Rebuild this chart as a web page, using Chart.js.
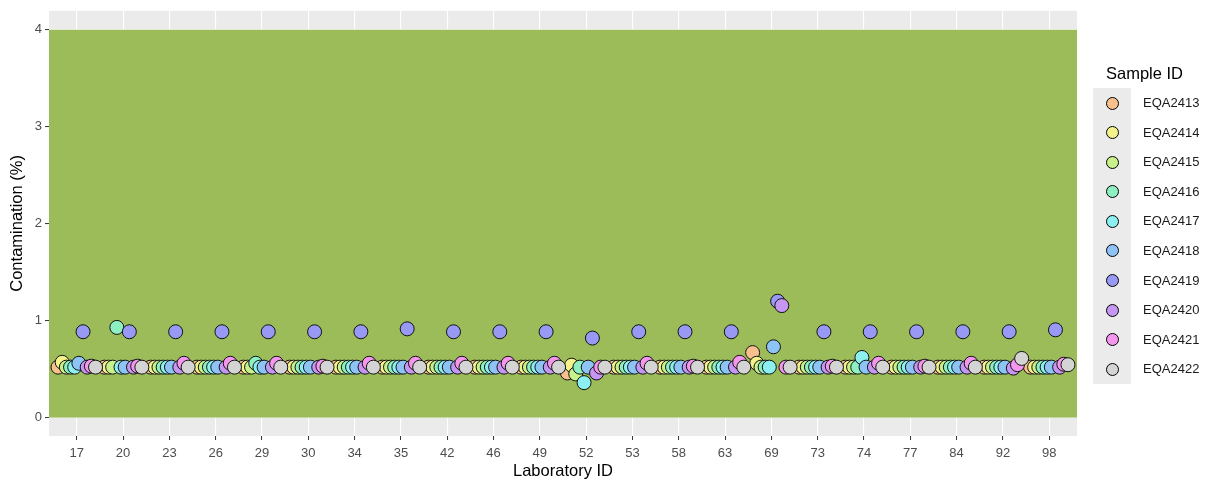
<!DOCTYPE html>
<html>
<head>
<meta charset="utf-8">
<script src="https://cdn.jsdelivr.net/npm/chart.js@4"></script>
<style>
  body { margin: 0; background: #fff; font-family: "Liberation Sans", Arial, sans-serif; }
  #wrap { position: relative; width: 1211px; height: 479px; }
  #legend { position: absolute; left: 1093px; top: 60px; }
  #legend .title { position: absolute; left: 13px; top: 4px; font-size: 16.5px; color: #000; white-space: nowrap; }
  #legend .keys { position: absolute; left: 0; top: 28px; width: 38px; background: #ebebeb; }
  #legend .row { position: relative; height: 29.6px; }
  #legend .dot { position: absolute; left: 12.5px; top: 8.5px; width: 11px; height: 11px; border: 1px solid #000; border-radius: 50%; }
  #legend .lab { position: absolute; left: 50px; top: 7px; font-size: 13px; color: #1a1a1a; white-space: nowrap; }
</style>
</head>
<body>
<div id="wrap">
  <canvas id="chart" width="1211" height="479"></canvas>
  <div id="legend"></div>
</div>
<script>
// laboratories on the x axis
const labIds = ['17', '20', '23', '26', '29', '30', '34', '35', '42', '46', '49',
                '52', '53', '58', '63', '69', '73', '74', '77', '84', '92', '98'];
const yTicks = [0, 1, 2, 3, 4];

const sampleIds = ['EQA2413', 'EQA2414', 'EQA2415', 'EQA2416', 'EQA2417',
                   'EQA2418', 'EQA2419', 'EQA2420', 'EQA2421', 'EQA2422'];
const sampleColors = ['#F8C08D', '#F3F28B', '#C8F08B', '#8DF0C3', '#8DF0F0',
                      '#8DC4F5', '#9898F5', '#C596F2', '#F596EE', '#D4D4D4'];

// contamination (%) per sample, one value per lab (same order as labIds)
const eqa2413 = [0.52, 0.52, 0.52, 0.52, 0.52, 0.52, 0.52, 0.52, 0.52, 0.52, 0.52,
                 0.46, 0.52, 0.52, 0.52, 0.67, 0.52, 0.52, 0.52, 0.52, 0.52, 0.52];
const eqa2414 = [0.57, 0.52, 0.52, 0.52, 0.52, 0.52, 0.52, 0.52, 0.52, 0.52, 0.52,
                 0.54, 0.52, 0.52, 0.52, 0.56, 0.52, 0.52, 0.52, 0.52, 0.52, 0.52];
const eqa2415 = [0.52, 0.52, 0.52, 0.52, 0.52, 0.52, 0.52, 0.52, 0.52, 0.52, 0.52,
                 0.45, 0.52, 0.52, 0.52, 0.52, 0.52, 0.52, 0.52, 0.52, 0.52, 0.52];
const eqa2416 = [0.52, 0.93, 0.52, 0.52, 0.56, 0.52, 0.52, 0.52, 0.52, 0.52, 0.52,
                 0.52, 0.52, 0.52, 0.52, 0.52, 0.52, 0.52, 0.52, 0.52, 0.52, 0.52];
const eqa2417 = [0.52, 0.52, 0.52, 0.52, 0.52, 0.52, 0.52, 0.52, 0.52, 0.52, 0.52,
                 0.36, 0.52, 0.52, 0.52, 0.52, 0.52, 0.62, 0.52, 0.52, 0.52, 0.52];
const eqa2418 = [0.56, 0.52, 0.52, 0.52, 0.52, 0.52, 0.52, 0.52, 0.52, 0.52, 0.52,
                 0.52, 0.52, 0.52, 0.52, 0.73, 0.52, 0.52, 0.52, 0.52, 0.52, 0.52];
const eqa2419 = [0.885, 0.885, 0.885, 0.885, 0.885, 0.885, 0.885, 0.915, 0.885, 0.885, 0.885,
                 0.82, 0.885, 0.885, 0.885, 1.20, 0.885, 0.885, 0.885, 0.885, 0.885, 0.905];
const eqa2420 = [0.52, 0.52, 0.52, 0.52, 0.52, 0.52, 0.52, 0.52, 0.52, 0.52, 0.52,
                 0.46, 0.52, 0.52, 0.52, 1.155, 0.52, 0.52, 0.52, 0.52, 0.51, 0.52];
const eqa2421 = [0.53, 0.53, 0.56, 0.56, 0.56, 0.53, 0.56, 0.56, 0.56, 0.56, 0.56,
                 0.52, 0.56, 0.53, 0.57, 0.52, 0.53, 0.56, 0.53, 0.56, 0.545, 0.55];
const eqa2422 = [0.52, 0.52, 0.52, 0.52, 0.52, 0.52, 0.52, 0.52, 0.52, 0.52, 0.52,
                 0.52, 0.52, 0.52, 0.52, 0.52, 0.52, 0.52, 0.52, 0.52, 0.61, 0.545];

const sampleValues = [eqa2413, eqa2414, eqa2415, eqa2416, eqa2417,
                      eqa2418, eqa2419, eqa2420, eqa2421, eqa2422];

// dodge the samples side by side within each lab (width 0.9, like ggplot)
const dodgeStep = 0.9 / sampleIds.length;

const datasets = sampleIds.map((id, s) => ({
    label: id,
    data: sampleValues[s].map((v, i) => ({ x: i + (s - 4.5) * dodgeStep, y: v })),
    backgroundColor: sampleColors[s],
    borderColor: '#111',
    borderWidth: 1,
    pointRadius: 7,
    pointHoverRadius: 7,
    order: sampleIds.length - s   // later samples drawn on top
}));

// grey panel + green band from 0 to 4
const panelPlugin = {
    id: 'panel',
    beforeDraw(chart) {
        const { ctx, chartArea: a } = chart;
        ctx.save();
        ctx.fillStyle = '#EBEBEB';
        ctx.fillRect(a.left, a.top, a.right - a.left, a.bottom - a.top);
        ctx.restore();
    },
    beforeDatasetsDraw(chart) {
        const { ctx, chartArea: a, scales } = chart;
        const top = scales.y.getPixelForValue(4);
        const bottom = scales.y.getPixelForValue(0);
        ctx.save();
        ctx.fillStyle = '#9CBB59';
        ctx.fillRect(a.left, top, a.right - a.left, bottom - top);
        ctx.restore();
    }
};

const tickFont = { family: '"Liberation Sans", Arial, sans-serif', size: 13 };
const titleFont = { family: '"Liberation Sans", Arial, sans-serif', size: 16.5 };

new Chart(document.getElementById('chart'), {
    type: 'scatter',
    data: { datasets: datasets },
    options: {
        responsive: false,
        animation: false,
        events: [],
        layout: { padding: { top: 10, right: 134, left: 0, bottom: 0 } },
        plugins: { legend: { display: false }, tooltip: { enabled: false } },
        scales: {
            x: {
                type: 'linear',
                min: -0.6,
                max: labIds.length - 0.4,
                afterBuildTicks: scale => { scale.ticks = labIds.map((_, i) => ({ value: i })); },
                afterFit: scale => { scale.height = 43; },
                ticks: {
                    autoSkip: false,
                    maxRotation: 0,
                    padding: 6,
                    color: '#4D4D4D',
                    font: tickFont,
                    callback: v => labIds[v]
                },
                grid: { color: '#FFFFFF', lineWidth: 1.1, tickColor: '#333333', tickLength: 4, tickWidth: 1 },
                border: { display: false },
                title: { display: true, text: 'Laboratory ID', color: '#000', font: titleFont, padding: { top: 0, bottom: -2 } }
            },
            y: {
                min: -0.19,
                max: 4.195,
                afterBuildTicks: scale => { scale.ticks = yTicks.map(v => ({ value: v })); },
                afterFit: scale => { scale.width = 49; },
                ticks: { padding: 3, color: '#4D4D4D', font: tickFont },
                grid: { color: '#FFFFFF', lineWidth: 1.1, tickColor: '#333333', tickLength: 4, tickWidth: 1 },
                border: { display: false },
                title: { display: true, text: 'Contamination (%)', color: '#000', font: titleFont, padding: { top: 8, bottom: 0 } }
            }
        }
    },
    plugins: [panelPlugin]
});

// ggplot-like legend on the right
const legend = document.getElementById('legend');
let html = '<div class="title">Sample ID</div><div class="keys">';
sampleIds.forEach((id, s) => {
    html += '<div class="row"><span class="dot" style="background:' + sampleColors[s] +
            '"></span><span class="lab">' + id + '</span></div>';
});
html += '</div>';
legend.innerHTML = html;
</script>
</body>
</html>
